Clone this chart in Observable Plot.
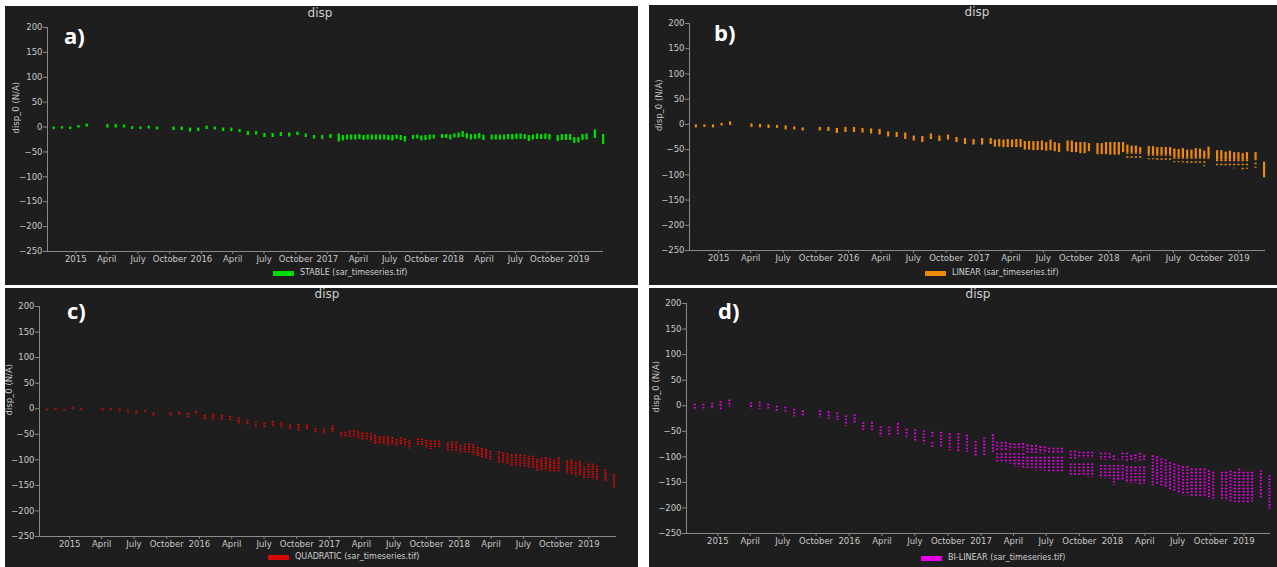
<!DOCTYPE html>
<html><head><meta charset="utf-8">
<script src="https://cdn.jsdelivr.net/npm/d3@7"></script>
<script src="https://cdn.jsdelivr.net/npm/@observablehq/plot@0.6"></script>
<style>
html,body{margin:0;padding:0;background:#fff;}
#root{position:relative;width:1277px;height:567px;overflow:hidden;background:#fff;}
.panel{position:absolute;background:#1e1e1e;overflow:hidden;}
.panel svg{position:absolute;left:0;top:0;background:transparent;max-width:none;}
.title{position:absolute;color:#cfcfcf;font:12px "DejaVu Sans",sans-serif;transform:translateX(-50%);line-height:1;}
.letter{position:absolute;color:#fff;font:bold 22px "Open Sans",sans-serif;line-height:1;}
.legend{position:absolute;display:flex;align-items:center;color:#cfcfcf;font:8px "DejaVu Sans",sans-serif;white-space:nowrap;height:10px;line-height:10px;}
.sw{display:inline-block;width:21px;height:5px;margin-right:6px;}
</style></head><body><div id="root"></div>
<script>
const dates = [
"2014-10-29","2014-11-22","2014-12-16","2015-01-09","2015-02-02",
"2015-04-03","2015-04-27","2015-05-21","2015-06-14","2015-07-08","2015-08-01","2015-08-25",
"2015-10-12","2015-11-05","2015-11-29","2015-12-23","2016-01-16","2016-02-09","2016-03-04","2016-03-28","2016-04-21","2016-05-15","2016-06-08","2016-07-02","2016-07-26","2016-08-19","2016-09-12","2016-10-06","2016-10-30","2016-11-23","2016-12-17","2017-01-10","2017-02-03",
"2017-02-15","2017-02-27","2017-03-11","2017-03-23","2017-04-04","2017-04-16","2017-04-28","2017-05-10","2017-05-22","2017-06-03","2017-06-15","2017-06-27","2017-07-09","2017-07-21","2017-08-02","2017-08-14",
"2017-09-07","2017-09-19","2017-10-01","2017-10-13","2017-10-25","2017-11-06",
"2017-11-30","2017-12-12","2017-12-24","2018-01-05","2018-01-17","2018-01-29","2018-02-10","2018-02-22","2018-03-06","2018-03-18","2018-03-30",
"2018-04-23","2018-05-05","2018-05-17","2018-05-29","2018-06-10","2018-06-22","2018-07-04","2018-07-16","2018-07-28","2018-08-09","2018-08-21","2018-09-02","2018-09-14","2018-09-26","2018-10-08",
"2018-11-01","2018-11-13","2018-11-25","2018-12-07","2018-12-19","2018-12-31","2019-01-12","2019-01-24",
"2019-02-17","2019-03-13"];

// a) STABLE
const aLo = [-5,-4,-5,-2,0, -2,-2,-2,-5,-5,-4,-6,
 -7,-7,-10,-9,-5,-6,-9,-9,-11,-17,-16,-21,-21,-19,-20,-17,-21,-24,-25,-23,-30,
 -28,-26,-26,-26,-25,-27,-26,-26,-26,-26,-26,-27,-28,-25,-27,-30,
 -25,-24,-28,-27,-26,-24,
 -23,-23,-26,-22,-22,-21,-24,-26,-25,-24,-27,
 -26,-26,-26,-26,-25,-26,-25,-25,-25,-29,-26,-25,-25,-25,-26,
 -29,-27,-27,-27,-33,-32,-27,-26, -23,-35];
const aHi = [0,1,0,3,6, 5,5,4,1,0,2,0,
 0,0,-2,-2,2,0,-2,-2,-5,-9,-9,-13,-13,-11,-12,-10,-14,-17,-17,-15,-14,
 -17,-16,-16,-16,-15,-17,-16,-16,-16,-16,-16,-17,-17,-16,-17,-19,
 -17,-16,-18,-17,-16,-16,
 -15,-15,-16,-14,-12,-9,-13,-15,-15,-13,-16,
 -16,-16,-16,-16,-15,-15,-14,-14,-15,-17,-16,-14,-15,-14,-15,
 -17,-15,-15,-15,-21,-21,-15,-14, -6,-15];

// b) LINEAR
const bLo = [-7,-6,-7,-3,-2, -6,-7,-8,-8,-11,-11,-13,
 -13,-14,-18,-16,-16,-17,-19,-21,-25,-26,-30,-33,-36,-30,-34,-31,-36,-40,-41,-41,-40,
 -45,-45,-46,-46,-46,-46,-46,-51,-51,-52,-52,-52,-53,-52,-54,-56,
 -54,-56,-56,-58,-58,-54,
 -60,-60,-60,-61,-61,-61,-56,-68,-70,-68,-70,
 -70,-70,-72,-73,-74,-74,-76,-76,-76,-81,-81,-77,-77,-84,-74,
 -84,-83,-83,-86,-88,-86,-91,-89, -87,-106];
const bHi = [-1,-1,-1,2,5, 1,0,-1,-2,-3,-5,-7,
 -6,-6,-8,-6,-6,-8,-9,-10,-15,-16,-17,-23,-24,-19,-23,-21,-26,-28,-30,-28,-28,
 -31,-30,-31,-30,-31,-30,-30,-34,-34,-34,-34,-33,-36,-31,-36,-38,
 -33,-33,-36,-36,-36,-38,
 -38,-38,-36,-36,-36,-36,-36,-41,-43,-43,-46,
 -44,-44,-46,-46,-46,-46,-49,-50,-48,-51,-51,-48,-49,-53,-45,
 -52,-52,-55,-53,-56,-56,-58,-56, -56,-75];
// where the dense part of b) ends and sparse points begin: [first date, last date, value]
const bTails = [
 ["2018-02-22","2018-03-30",-56],
 ["2018-04-23","2018-06-22",-60],
 ["2018-07-04","2018-10-08",-66],
 ["2018-11-01","2019-01-24",-71],
 ["2019-02-17","2019-02-17",-69]];

// c) QUADRATIC
const cLo = [-5,-4,-6,-2,-4, -5,-5,-7,-9,-11,-9,-15,
 -14,-13,-18,-12,-22,-22,-24,-24,-30,-34,-37,-38,-36,-38,-42,-44,-42,-49,-51,-46,-57,
 -57,-57,-58,-60,-62,-63,-65,-70,-70,-70,-72,-72,-74,-72,-75,-79,
 -74,-74,-78,-80,-78,-78,
 -83,-83,-83,-88,-86,-86,-91,-94,-96,-98,-103,
 -107,-107,-109,-112,-112,-114,-116,-116,-116,-122,-122,-122,-124,-124,-124,
 -128,-128,-132,-130,-139,-137,-139,-141, -142,-155];
const cHi = [-1,0,-2,2,0, 1,1,-1,-3,-5,-4,-9,
 -8,-7,-10,-6,-13,-11,-13,-15,-18,-23,-26,-28,-25,-27,-32,-31,-32,-39,-40,-34,-46,
 -46,-43,-43,-45,-47,-48,-49,-52,-55,-55,-56,-57,-60,-57,-59,-62,
 -59,-59,-62,-63,-63,-63,
 -67,-65,-65,-72,-69,-69,-70,-76,-78,-80,-83,
 -84,-86,-88,-90,-90,-91,-91,-93,-93,-99,-97,-96,-99,-101,-96,
 -103,-101,-105,-103,-114,-108,-108,-112, -120,-129];

// d) BI-LINEAR
const dLo = [-9,-10,-7,-9,-3, -7,-7,-8,-13,-16,-22,-22,
 -24,-27,-29,-40,-34,-49,-50,-61,-61,-57,-65,-72,-75,-83,-81,-88,-91,-91,-100,-98,-94,
 -111,-111,-113,-114,-120,-120,-122,-124,-126,-127,-127,-128,-130,-130,-130,-130,
 -137,-137,-139,-139,-140,-140,
 -143,-143,-143,-156,-147,-147,-152,-153,-152,-154,-153,
 -156,-156,-158,-161,-166,-169,-171,-174,-176,-178,-179,-180,-180,-184,-186,
 -186,-187,-189,-189,-192,-192,-192,-189, -182,-205];
const dHi = [3,3,5,8,11, 6,7,3,-1,-3,-7,-10,
 -10,-12,-14,-20,-18,-33,-33,-41,-42,-35,-46,-47,-49,-52,-52,-55,-55,-58,-70,-63,-57,
 -72,-72,-72,-74,-75,-75,-74,-77,-78,-78,-80,-81,-83,-83,-83,-83,
 -89,-89,-91,-91,-91,-91,
 -93,-93,-94,-98,-106,-93,-93,-98,-96,-93,-98,
 -98,-100,-104,-106,-111,-114,-117,-119,-119,-124,-124,-124,-124,-127,-130,
 -130,-130,-128,-130,-124,-130,-130,-130, -127,-137];
// empty bands between the two groups of points in d): [first date, last date, top, bottom]
const dGaps = [
 ["2016-08-19","2016-08-19",-63,-72],
 ["2017-02-15","2017-04-28",-88,-94],
 ["2017-05-10","2017-08-14",-94,-101],
 ["2017-09-07","2017-11-06",-104,-114],
 ["2017-11-30","2018-01-29",-107,-117],
 ["2018-02-10","2018-03-30",-110,-120]];

const tickDates = ["2015-01-01","2015-04-01","2015-07-01","2015-10-01","2016-01-01","2016-04-01","2016-07-01","2016-10-01","2017-01-01","2017-04-01","2017-07-01","2017-10-01","2018-01-01","2018-04-01","2018-07-01","2018-10-01","2019-01-01"];
const tickLabels = ["2015","April","July","October","2016","April","July","October","2017","April","July","October","2018","April","July","October","2019"];
const yTicks = [200,150,100,50,0,-50,-100,-150,-200,-250];

const labelByTime = new Map(tickDates.map((d,i)=>[+new Date(d), tickLabels[i]]));
const inRange = (t, r) => t >= new Date(r[0]) && t <= new Date(r[1]);

const panels = [
 {letter:"a)", left:5, top:6, width:633, height:279, svgH:265, mL:42, mR:35, mT:21, mB:20,
  domain:["2014-10-11","2019-03-14"], lo:aLo, hi:aHi, color:"#00dc00", sw:2.3, dash:null,
  legend:"STABLE (sar_timeseries.tif)", titleX:315, titleY:1, letterX:59, letterY:18, legX:268, legY:262, ylabDx:-31},
 {letter:"b)", left:649, top:5, width:628, height:280, svgH:265, mL:40, mR:12, mT:18, mB:20,
  domain:["2014-10-11","2019-03-17"], lo:bLo, hi:bHi, color:"#ee8a0a", sw:2.2, dash:null, tails:bTails,
  legend:"LINEAR (sar_timeseries.tif)", titleX:328, titleY:1, letterX:65, letterY:16, legX:276, legY:263, ylabDx:-30},
 {letter:"c)", left:5, top:288, width:633, height:279, svgH:268, mL:34, mR:22, mT:18, mB:20,
  domain:["2014-10-08","2019-03-20"], lo:cLo, hi:cHi, color:"#d80808", sw:2.1, dash:"1.6,0.9",
  legend:"QUADRATIC (sar_timeseries.tif)", titleX:322, titleY:0, letterX:62, letterY:11, legX:263, legY:264, ylabDx:-30},
 {letter:"d)", left:649, top:288, width:628, height:279, svgH:265, mL:37, mR:7, mT:15, mB:20,
  domain:["2014-10-06","2019-03-16"], lo:dLo, hi:dHi, color:"#e600e6", sw:2.1, dash:"1.6,1.6", gaps:dGaps,
  legend:"BI-LINEAR (sar_timeseries.tif)", titleX:329, titleY:0, letterX:69, letterY:11, legX:272, legY:265, ylabDx:-30}
];

const root = document.getElementById("root");
for (const p of panels) {
  const div = document.createElement("div");
  div.className = "panel";
  Object.assign(div.style, {left:p.left+"px", top:p.top+"px", width:p.width+"px", height:p.height+"px"});
  root.appendChild(div);

  const segs = [], sparse = [];
  dates.forEach((d,i)=>{
    const t = new Date(d);
    const g = p.gaps ? p.gaps.find(r => inRange(t, r)) : null;
    const tl = p.tails ? p.tails.find(r => inRange(t, r)) : null;
    if (g) {
      segs.push({date:t, y1:p.hi[i], y2:g[2]});
      segs.push({date:t, y1:g[3], y2:p.lo[i]});
    } else if (tl) {
      segs.push({date:t, y1:p.hi[i], y2:tl[2]});
      sparse.push({date:t, y1:tl[2], y2:p.lo[i]});
    } else {
      segs.push({date:t, y1:p.hi[i], y2:p.lo[i]});
    }
  });
  const start = new Date(p.domain[0]);
  const svg = Plot.plot({
    width:p.width, height:p.svgH,
    marginLeft:p.mL, marginRight:p.mR, marginTop:p.mT, marginBottom:p.mB,
    style:{background:"transparent", color:"#c8c8c8", fontFamily:"DejaVu Sans, sans-serif", fontSize:"8.5px", overflow:"visible"},
    x:{type:"utc", domain:[start, new Date(p.domain[1])]},
    y:{domain:[-250,200]},
    marks:[
      Plot.axisY({ticks:yTicks, tickSize:4, tickPadding:1, label:null, stroke:"#8a8a8a", fill:"#c8c8c8"}),
      Plot.axisX({ticks:tickDates.map(d=>new Date(d)), tickFormat:d=>labelByTime.get(+d), tickSize:3, tickPadding:1, label:null, stroke:"#8a8a8a", fill:"#c8c8c8"}),
      Plot.ruleY([-250], {stroke:"#8a8a8a"}),
      Plot.ruleX([start], {stroke:"#8a8a8a"}),
      Plot.ruleX(segs, {x:"date", y1:"y1", y2:"y2", stroke:p.color, strokeWidth:p.sw, strokeDasharray:p.dash ?? undefined}),
      Plot.ruleX(sparse, {x:"date", y1:"y1", y2:"y2", stroke:p.color, strokeWidth:p.sw, strokeDasharray:"1.5,2.5"}),
      Plot.text(["disp_0 (N/A)"], {frameAnchor:"left", dx:p.ylabDx, dy:-6, rotate:-90, fill:"#c8c8c8", fontSize:8.5})
    ]
  });
  div.appendChild(svg);

  const title = document.createElement("div");
  title.className = "title"; title.textContent = "disp";
  Object.assign(title.style, {left:p.titleX+"px", top:p.titleY+"px"});
  div.appendChild(title);

  const letter = document.createElement("div");
  letter.className = "letter"; letter.textContent = p.letter;
  Object.assign(letter.style, {left:p.letterX+"px", top:p.letterY+"px"});
  div.appendChild(letter);

  const leg = document.createElement("div");
  leg.className = "legend";
  Object.assign(leg.style, {left:p.legX+"px", top:p.legY+"px"});
  const sw = document.createElement("span");
  sw.className = "sw"; sw.style.background = p.color;
  const tx = document.createElement("span"); tx.textContent = p.legend;
  leg.appendChild(sw); leg.appendChild(tx);
  div.appendChild(leg);
}
</script></body></html>
